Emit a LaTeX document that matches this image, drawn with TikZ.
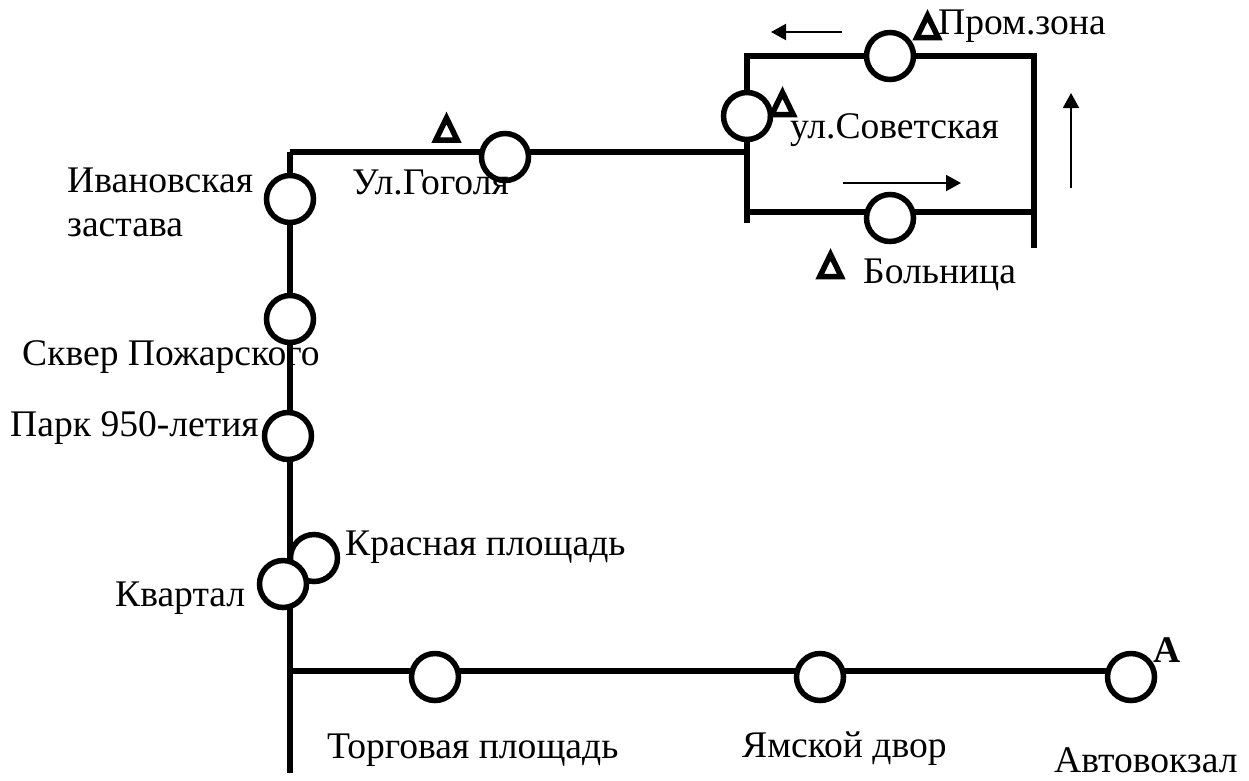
\documentclass[tikz,border=0pt]{standalone}
\usepackage{fontspec}
\setmainfont{Liberation Serif}
\usetikzlibrary{arrows.meta}
\tikzset{
  stop/.style={circle,draw=black,fill=white,line width=5.5pt,minimum size=47pt,inner sep=0pt},
  route/.style={line width=5.5pt,draw=black},
  dirarrow/.style={line width=2pt,draw=black,-{Triangle[length=15pt,width=16pt]}},
  lbl/.style={anchor=base west,inner sep=0pt,font=\fontsize{37.6pt}{37.6pt}\selectfont},
  mark tri/.pic={\draw[line width=5.5pt,miter limit=10] (-10.7,0) -- (10.7,0) -- (0,-22) -- cycle;}
}
\begin{document}
\begin{tikzpicture}[x=1pt,y=-1pt]
\useasboundingbox (0,0) rectangle (1249,780);
\coordinate (tl) at (290,152);
\coordinate (bot) at (290,773);
\coordinate (tj) at (290,671);
\coordinate (end) at (1131,671);
\coordinate (lj) at (747,152);
\coordinate (ltop) at (747,56);
\coordinate (lbot) at (747,223);
\coordinate (rtop) at (1034,56);
\coordinate (rbot) at (1034,248);
\coordinate (lmid) at (747,212);
\coordinate (rmid) at (1034,212);
\draw[route] (tl) -- (bot);
\draw[route] (tl) -- (lj);
\draw[route] (tj) -- (end);
\draw[route] (lbot) -- (ltop) -- (rtop) -- (rbot);
\draw[route] (lmid) -- (rmid);
\node[stop] (iv) at (290,199) {};
\node[stop] (sk) at (290,319) {};
\node[stop] (pk) at (288,436) {};
\node[stop] (kr) at (314,558) {};
\node[stop] (kv) at (283,584) {};
\node[stop] (tp) at (435,677) {};
\node[stop] (ya) at (820,677) {};
\node[stop] (av) at (1131,677) {};
\node[stop] (go) at (505,157) {};
\node[stop] (so) at (747,116) {};
\node[stop] (pr) at (890,56) {};
\node[stop] (bo) at (890,218) {};
\pic at (446.5,140) {mark tri};
\pic at (927.5,37.5) {mark tri};
\pic at (782.5,114.5) {mark tri};
\pic at (830.5,276.5) {mark tri};
\coordinate (a1s) at (842,32); \coordinate (a1e) at (771,32);
\coordinate (a2s) at (843,183); \coordinate (a2e) at (961,183);
\coordinate (a3s) at (1071,188); \coordinate (a3e) at (1071,93);
\draw[dirarrow] (a1s) -- (a1e);
\draw[dirarrow] (a2s) -- (a2e);
\draw[dirarrow] (a3s) -- (a3e);
\node[lbl] (t1) at (938,34) {Пром.зона};
\node[lbl] (t2) at (790,138) {ул.Советская};
\node[lbl] (t3) at (863,283) {Больница};
\node[lbl] (t4) at (352,194) {Ул.Гоголя};
\node[lbl] (t5) at (67,192) {Ивановская};
\node[lbl] (t6) at (67,236) {застава};
\node[lbl] (t7) at (22,365) {Сквер Пожарского};
\node[lbl] (t8) at (10,436) {Парк 950-летия};
\node[lbl] (t9) at (345,555) {Красная площадь};
\node[lbl] (t10) at (115,606) {Квартал};
\node[lbl] (t11) at (327,758) {Торговая площадь};
\node[lbl] (t12) at (742,757) {Ямской двор};
\node[lbl] (t13) at (1054,772) {Автовокзал};
\node[lbl,font=\fontsize{37.6pt}{37.6pt}\selectfont\bfseries] (t14) at (1153,662) {А};
\end{tikzpicture}
\end{document}
